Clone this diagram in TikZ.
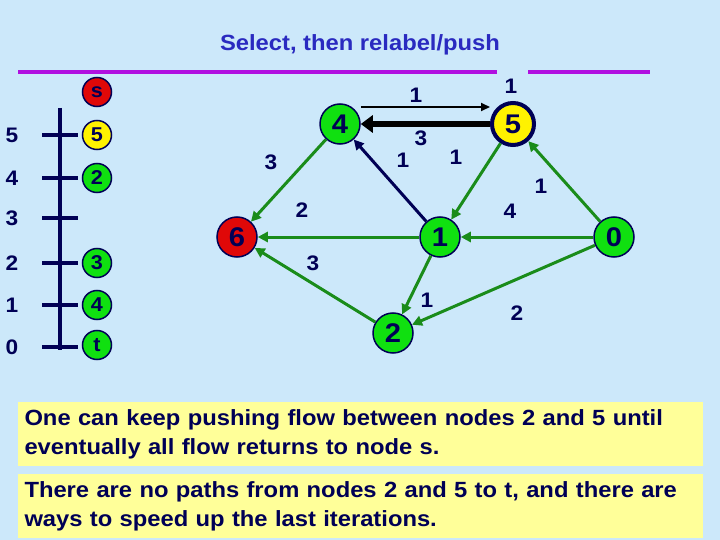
\documentclass[tikz,border=0pt]{standalone}
\usepackage{fontspec}
\setmainfont[FakeStretch=1.08]{Liberation Sans}
\usetikzlibrary{arrows.meta}
\definecolor{bg}{HTML}{CCE8FA}
\definecolor{navy}{HTML}{000055}
\definecolor{titleblue}{HTML}{2A2AC0}
\definecolor{rule}{HTML}{B010E0}
\definecolor{nodegreen}{HTML}{10E010}
\definecolor{edgegreen}{HTML}{1A8C1A}
\definecolor{nodered}{HTML}{E00808}
\definecolor{noteyellow}{HTML}{FFFF99}

\tikzset{
	vertex/.style={circle,draw=navy,line width=1.5pt,minimum size=40pt,inner sep=0pt,
		text=navy,font=\bfseries\fontsize{27}{27}\selectfont},
	height/.style={circle,draw=navy,line width=1.5pt,minimum size=29pt,inner sep=0pt,
		text=navy,font=\bfseries\fontsize{20}{20}\selectfont},
	lbl/.style={text=navy,font=\bfseries\fontsize{21}{21}\selectfont,inner sep=0pt},
	gedge/.style={draw=edgegreen,line width=3pt,-{Triangle[length=10pt,width=10pt]}},
	note/.style={fill=noteyellow,minimum width=685pt,minimum height=64pt,text width=672pt,
		align=left,inner sep=0pt,text=navy,font=\bfseries\fontsize{22}{29}\selectfont}
}

\begin{document}
\begin{tikzpicture}[x=1pt,y=-1pt]
	\fill[bg] (0,0) rectangle (720,540);
	\node[text=titleblue,font=\bfseries\fontsize{22}{22}\selectfont] (title) at (360,45) {Select, then relabel/push};
	\draw[rule,line width=4pt] (18,72)--(497,72) (528,72)--(650,72);
	
	% height scale
	\draw[navy,line width=4.5pt] (60,108)--(60,350);
	\foreach \y/\h in {135/5,
		178/4,
		218/3,
		263/2,
		305/1,
		347/0%
	}
	{
		\draw[navy,line width=4.5pt] (42,\y)--(78,\y);
		\node[lbl] (h\h) at (12,\y) {\h};
	};
	
	\foreach \y/\c/\t in {92/nodered/s,
		135/yellow/5,
		178/nodegreen/2,
		263/nodegreen/3,
		305/nodegreen/4,
		345/nodegreen/t%
	}
	{\node[height,fill=\c] (q\t) at (97,\y) {\t};}
	
	% graph
	\node[vertex,fill=nodegreen] (n4) at (340,124) {4};
	\node[vertex,fill=yellow,line width=4pt,minimum size=42pt] (n5) at (513,124) {5};
	\node[vertex,fill=nodered] (n6) at (237,237) {6};
	\node[vertex,fill=nodegreen] (n1) at (440,237) {1};
	\node[vertex,fill=nodegreen] (n0) at (614,237) {0};
	\node[vertex,fill=nodegreen] (n2) at (393,333) {2};
	
	\draw[black,line width=2pt,-{Triangle[length=9pt,width=8pt]}] ([yshift=17pt]n4.east)--([yshift=17pt]n5.west);
	\draw[black,line width=5.5pt,-{Triangle[length=12pt,width=17pt]}] (n5)--(n4);
	\draw[navy,line width=3pt,-{Triangle[length=10pt,width=10pt]}] (n1)--(n4);
	\draw[gedge] (n5)--(n1);
	\draw[gedge] (n0)--(n5);
	\draw[gedge] (n4)--(n6);
	\draw[gedge] (n1)--(n6);
	\draw[gedge] (n0)--(n1);
	\draw[gedge] (n2)--(n6);
	\draw[gedge] (n1)--(n2);
	\draw[gedge] (n0)--(n2);
	
	\foreach \x/\y/\v/\k in {511/86/1/a,
		416/95/1/b,
		421/138/3/c,
		403/160/1/d,
		456/157/1/e,
		541/186/1/f,
		271/162/3/g,
		302/210/2/h,
		510/211/4/i,
		313/263/3/j,
		427/300/1/k,
		517/313/2/l%
	}
	{\node[lbl] (w\k) at (\x,\y) {\v};}
	
	\node[note] (note1) at (360.5,434) {One can keep pushing flow between nodes 2 and 5 until\\eventually all flow returns to node s.};
	\node[note] (note2) at (360.5,506) {There are no paths from nodes 2 and 5 to t, and there are\\ways to speed up the last iterations.};
\end{tikzpicture}
\end{document}
